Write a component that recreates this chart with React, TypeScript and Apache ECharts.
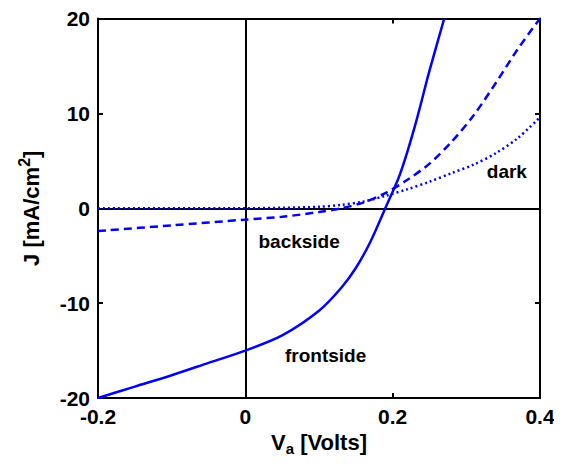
import React, { useEffect, useRef } from "react";
import * as echarts from "echarts";

const frontV = [-0.2, -0.15, -0.1, -0.05, 0, 0.05, 0.1, 0.13, 0.15, 0.17, 0.19, 0.21, 0.23, 0.25, 0.27];
const frontJ = [-20, -18.8, -17.6, -16.3, -15, -13.4, -10.8, -8.4, -6.3, -3.5, 0, 3.6, 8.6, 14.5, 20];
const backV = [-0.2, -0.1, 0, 0.05, 0.1, 0.13, 0.16, 0.19, 0.22, 0.25, 0.28, 0.31, 0.34, 0.37, 0.4];
const backJ = [-2.4, -1.8, -1.2, -0.9, -0.4, 0, 0.6, 1.6, 3, 4.7, 7, 9.8, 13.2, 16.8, 20];
const darkV = [-0.2, 0, 0.05, 0.1, 0.13, 0.16, 0.19, 0.22, 0.25, 0.28, 0.31, 0.34, 0.37, 0.4];
const darkJ = [0, 0, 0.05, 0.15, 0.35, 0.7, 1.3, 2, 2.8, 3.7, 4.6, 5.8, 7.4, 9.6];
const xTicks = { min: -0.2, max: 0.4, interval: 0.2 };
const yTicks = { min: -20, max: 20, interval: 10 };
const labels = [
  { text: "dark", v: 0.355, j: 3.9 },
  { text: "backside", v: 0.073, j: -3.5 },
  { text: "frontside", v: 0.109, j: -15.5 },
];

const FONT = "'Liberation Sans', Arial, sans-serif";
const BLUE = "#0000ff";

function zip(a: number[], b: number[]) {
  return a.map((v, i) => [v, b[i]]);
}

export default function App() {
  const ref = useRef<HTMLDivElement>(null);
  useEffect(() => {
    const chart = echarts.init(ref.current!, null, { renderer: "svg" });
    const axisLine = { show: true, onZero: false, lineStyle: { color: "#000", width: 2 } };
    const tick = { show: true, inside: true, length: 5, lineStyle: { color: "#000", width: 2 } };
    const label = { color: "#000", fontSize: 21, fontWeight: "bold" as const, fontFamily: FONT };
    chart.setOption({
      animation: false,
      grid: { left: 88, top: 8, width: 444, height: 382, containLabel: false },
      xAxis: [
        {
          type: "value",
          ...xTicks,
          axisLine,
          axisTick: tick,
          splitLine: { show: false },
          axisLabel: { ...label, margin: 8, formatter: (v: number) => (v === 0 ? "0" : String(Math.round(v * 10) / 10)) },
          name: "V{sub|a} [Volts]",
          nameLocation: "middle",
          nameGap: 31,
          nameTextStyle: {
            ...label,
            fontSize: 22,
            rich: {
              sub: { fontSize: 15, fontWeight: "bold", fontFamily: FONT, color: "#000", verticalAlign: "bottom", padding: [12, 0, 0, 0] },
            },
          },
        },
        {
          type: "value",
          position: "top",
          ...xTicks,
          axisLine,
          axisTick: tick,
          splitLine: { show: false },
          axisLabel: { show: false },
        },
      ],
      yAxis: [
        {
          type: "value",
          ...yTicks,
          axisLine,
          axisTick: tick,
          splitLine: { show: false },
          axisLabel: { ...label, margin: 8 },
          name: "J [mA/cm{sup|2}]",
          nameLocation: "middle",
          nameGap: 52,
          nameTextStyle: {
            ...label,
            fontSize: 22,
            rich: {
              sup: { fontSize: 16, fontWeight: "bold", fontFamily: FONT, color: "#000", verticalAlign: "top", padding: [0, 0, 14, 0] },
            },
          },
        },
        {
          type: "value",
          position: "right",
          ...yTicks,
          axisLine,
          axisTick: tick,
          splitLine: { show: false },
          axisLabel: { show: false },
        },
      ],
      series: [
        {
          type: "line",
          data: zip(frontV, frontJ),
          smooth: 0.3,
          symbol: "none",
          lineStyle: { color: BLUE, width: 2.5 },
          z: 3,
          markLine: {
            silent: true,
            symbol: "none",
            label: { show: false },
            lineStyle: { color: "#000", width: 2, type: "solid" },
            data: [{ xAxis: 0 }, { yAxis: 0 }],
            z: 1,
          },
        },
        {
          type: "line",
          data: zip(backV, backJ),
          smooth: 0.3,
          symbol: "none",
          lineStyle: { color: BLUE, width: 2.5, type: [8, 5] },
          z: 3,
        },
        {
          type: "line",
          data: zip(darkV, darkJ),
          smooth: 0.3,
          symbol: "none",
          lineStyle: { color: BLUE, width: 2.5, type: [2, 3] },
          z: 3,
        },
        {
          type: "scatter",
          data: labels.map((l) => [l.v, l.j, l.text]),
          symbolSize: 0,
          silent: true,
          itemStyle: { color: "#000", opacity: 1 },
          label: {
            show: true,
            position: "inside",
            formatter: (p: any) => p.data[2],
            color: "#000",
            opacity: 1,
            textBorderWidth: 0,
            textBorderColor: "transparent",
            fontSize: 19,
            fontWeight: "bold",
            fontFamily: FONT,
          },
          z: 4,
        },
      ],
    });
    return () => chart.dispose();
  }, []);
  return <div ref={ref} style={{ width: 554, height: 457 }} />;
}
